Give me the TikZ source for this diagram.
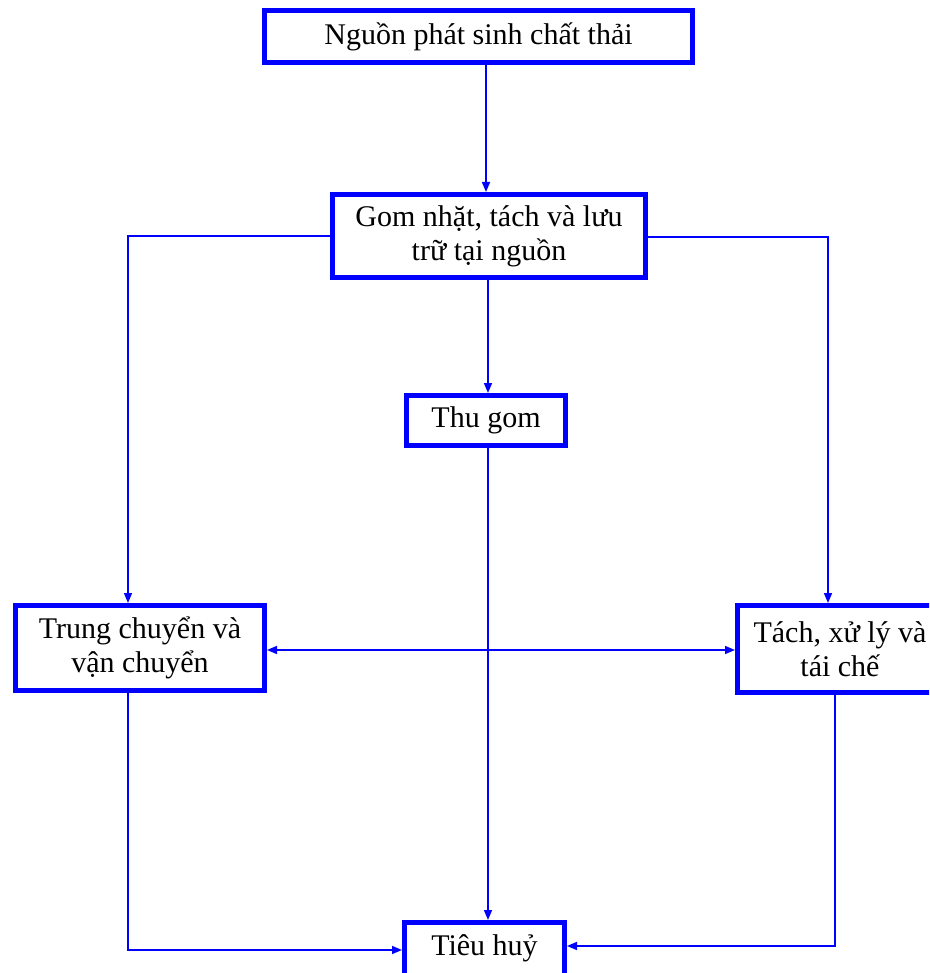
\documentclass[tikz,border=0pt]{standalone}
\usepackage{fontspec}
\setmainfont{Liberation Serif}
\usetikzlibrary{arrows.meta}
\definecolor{pureblue}{RGB}{0,0,255}
\tikzset{
  box/.style={draw=pureblue, line width=5pt, fill=white, inner sep=0pt,
    align=center, font=\fontsize{30}{34}\selectfont},
  conn/.style={draw=pureblue, line width=1.6pt},
  arr/.style={conn, -{Triangle[length=10pt,width=8pt]}},
  darr/.style={conn, {Triangle[length=10pt,width=8pt]}-{Triangle[length=10pt,width=8pt]}}
}
\begin{document}
\begin{tikzpicture}[x=1pt,y=-1pt]
\useasboundingbox (0,0) rectangle (929,973);
\clip (0,0) rectangle (929,973);
\node[box, minimum width=428pt, minimum height=52pt] (src) at (478.5,36.5) {Nguồn phát sinh chất thải};
\node[box, minimum width=313pt, minimum height=83pt] (gom) at (489,236) {Gom nhặt, tách và lưu\\trữ tại nguồn};
\node[box, minimum width=159pt, minimum height=50pt] (thu) at (486,420.5) {Thu gom};
\node[box, minimum width=249pt, minimum height=85pt] (trung) at (140,648) {Trung chuyển và\\vận chuyển};
\node[box, minimum width=205pt, minimum height=87pt] (tach) at (840,649) {Tách, xử lý và\\tái chế};
\node[box, minimum width=160pt, minimum height=66pt, text depth=20pt] (tieu) at (484.5,955.5) {Tiêu huỷ};
% reference x positions
\coordinate (xa) at (486,0);
\coordinate (xb) at (488,0);
\coordinate (xl) at (128,0);
\coordinate (xr) at (828,0);
\coordinate (xr2) at (835,0);
\coordinate (yd) at (0,650);
\coordinate (yl) at (0,950);
\coordinate (yr) at (0,946);
\coordinate (ygl) at (0,236);
\coordinate (ygr) at (0,237);
% connectors
\draw[arr] (xa |- src.south) -- (xa |- gom.north);
\draw[arr] (xb |- gom.south) -- (xb |- thu.north);
\draw[arr] (xb |- thu.south) -- (xb |- tieu.north);
\draw[arr] (gom.west |- ygl) -- (xl |- ygl) -- (xl |- trung.north);
\draw[arr] (gom.east |- ygr) -- (xr |- ygr) -- (xr |- tach.north);
\draw[darr] (trung.east |- yd) -- (tach.west |- yd);
\draw[arr] (xl |- trung.south) -- (xl |- yl) -- (tieu.west |- yl);
\draw[arr] (xr2 |- tach.south) -- (xr2 |- yr) -- (tieu.east |- yr);
\end{tikzpicture}
\end{document}
